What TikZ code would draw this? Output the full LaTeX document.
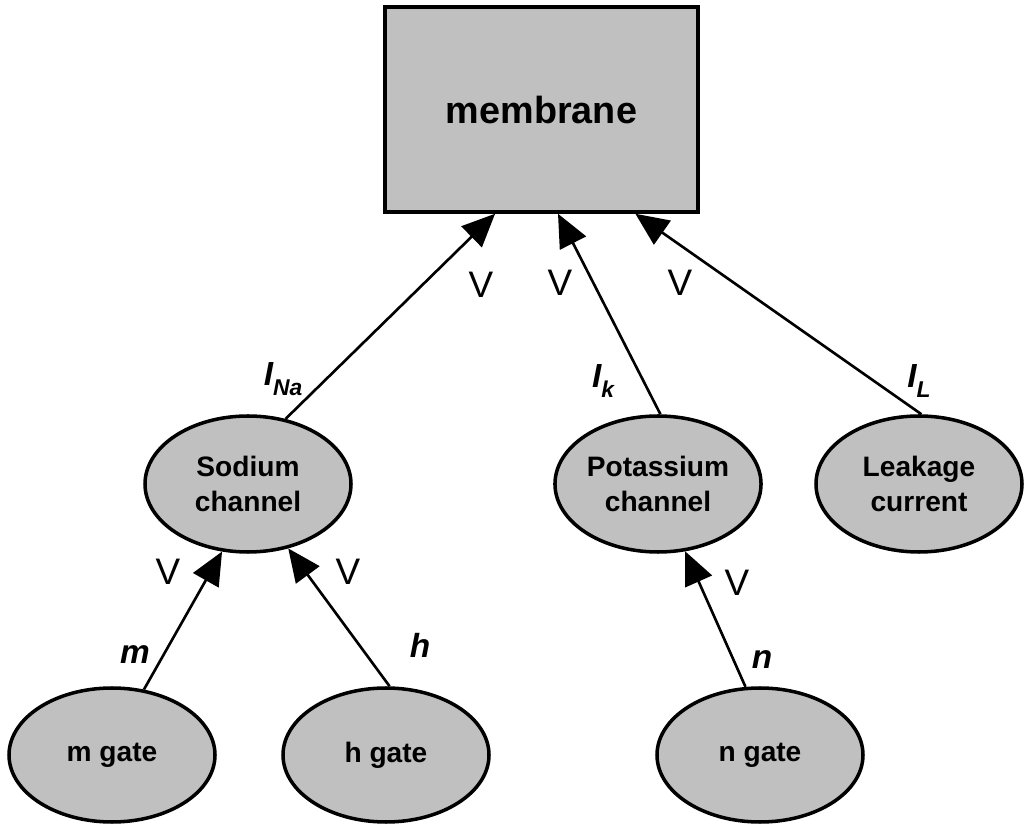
\documentclass[tikz,border=0pt]{standalone}
\usepackage{fontspec}
\setmainfont{Liberation Sans}
\usepackage{tikz}
\usetikzlibrary{arrows.meta}
\usetikzlibrary{shapes.geometric}

\definecolor{cellgray}{HTML}{C0C0C0}

\newcommand{\lowsub}[1]{\raisebox{-0.3em}{\fontsize{13}{13}\selectfont #1}}

\tikzset{
    compart/.style={draw, fill=cellgray, line width=2pt, minimum width=6.26cm,
        minimum height=4.1cm, font=\fontsize{21.5}{24}\selectfont\bfseries},
    chan/.style={ellipse, draw, fill=cellgray, line width=2pt, minimum width=4.12cm,
        minimum height=2.72cm, inner sep=1pt, align=center,
        font=\fontsize{16}{19.5}\selectfont\bfseries},
    gate/.style={chan, minimum height=2.68cm},
    flow/.style={line width=1.5pt, -{Triangle[length=0.66cm, width=0.58cm]}},
    volt/.style={font=\fontsize{21}{24}\selectfont, inner sep=0pt},
    curr/.style={font=\fontsize{19}{22}\selectfont\bfseries\itshape, inner sep=0pt}
}

\begin{document}
\begin{tikzpicture}
        \useasboundingbox (0,0) rectangle (20.48,16.5);

        % membrane on top
        \node [compart] (mem) at (10.83,14.31) {membrane};

        % ionic channels
        \node [chan] (na) at (4.96,6.82) {Sodium\\channel};
        \node [chan] (k) at (13.16,6.82) {Potassium\\channel};
        \node [chan] (leak) at (18.38,6.82) {Leakage\\current};

        % gating variables
        \node [gate] (mg) at (2.24,1.40) {m gate};
        \node [gate] (hg) at (7.72,1.40) {h gate};
        \node [gate] (ng) at (15.20,1.40) {n gate};

        % currents into the membrane
        \draw [flow] (na.60) -- (mem.246);
        \draw [flow] (k.88) -- (mem.279);
        \draw [flow] (leak.88) -- (mem.312);

        % gates into the channels
        \draw [flow] (mg.64) -- (na.249);
        \draw [flow] (hg.87) -- (na.302);
        \draw [flow] (ng.102) -- (k.292);

        % labels
        \node [volt] (v1) at (9.62,10.80) {V};
        \node [volt] (v2) at (11.20,10.84) {V};
        \node [volt] (v3) at (13.60,10.84) {V};
        \node [curr] (ina) at (5.66,8.92) {I\lowsub{Na}};
        \node [curr] (ik) at (12.06,8.88) {I\lowsub{k}};
        \node [curr] (il) at (18.38,8.88) {I\lowsub{L}};

        \node [volt] (v4) at (3.36,5.06) {V};
        \node [volt] (v5) at (6.96,5.06) {V};
        \node [volt] (v6) at (14.74,4.84) {V};
        \node [curr] (lm) at (2.70,3.40) {m};
        \node [curr] (lh) at (8.40,3.60) {h};
        \node [curr] (ln) at (15.24,3.30) {n};
    \end{tikzpicture}
\end{document}
